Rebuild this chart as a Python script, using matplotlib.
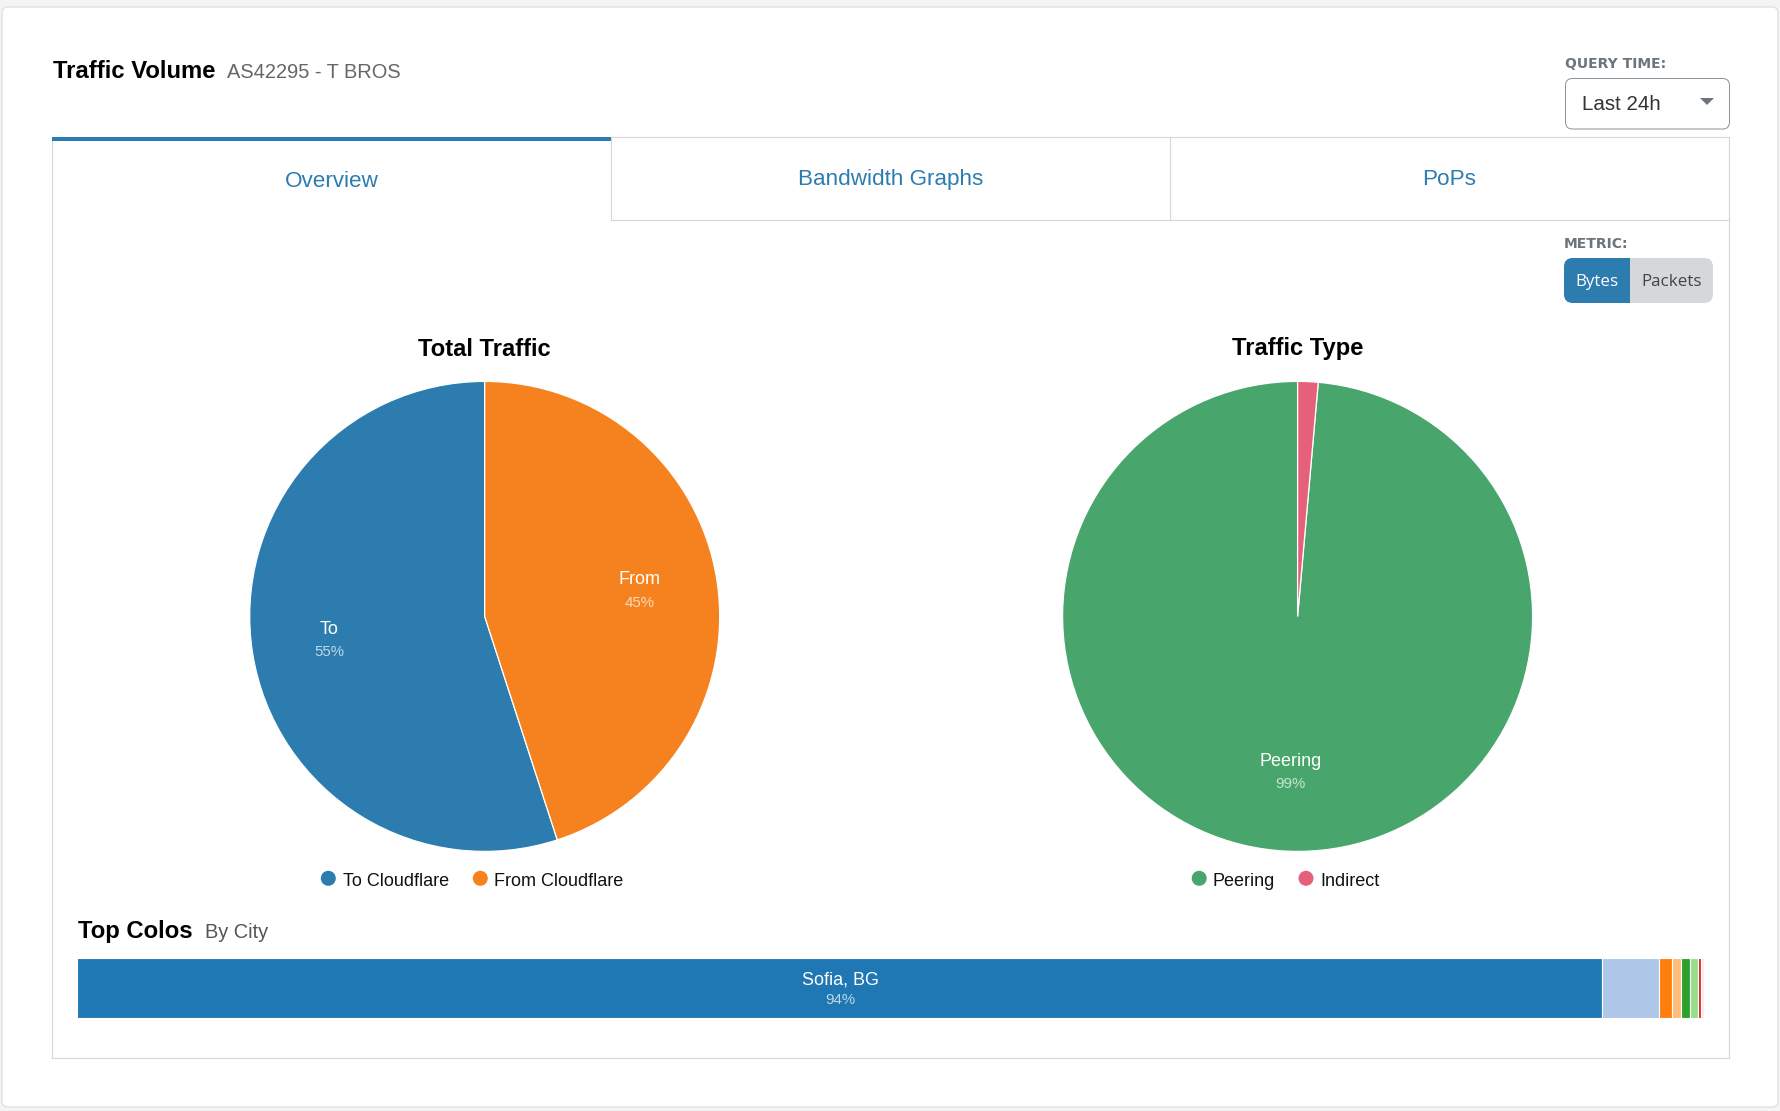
import matplotlib.pyplot as plt
from matplotlib.patches import Circle, FancyBboxPatch, Polygon, Rectangle

W, H = 1780, 1111

total_labels = ["To", "From"]
total_legend = ["To Cloudflare", "From Cloudflare"]
total_values = [55, 45]
total_pct = ["55%", "45%"]

type_labels = ["Peering", "Indirect"]
type_values = [98.6, 1.4]

colo_values = [93.78, 3.48, 0.78, 0.58, 0.55, 0.46, 0.18, 0.18]

TOTAL_COLORS = ["#2c7cb0", "#f5821f"]
TYPE_COLORS = ["#48a56c", "#e5607a"]
COLO_COLORS = ["#1f77b4", "#aec7e8", "#ff7f0e", "#ffbb78", "#2ca02c", "#98df8a", "#d62728", "#ffe9e4"]
BLUE = "#2c7cb0"
LINE = "#d6d6d6"

plt.rcParams["font.family"] = ["Liberation Sans", "DejaVu Sans"]

fig = plt.figure(figsize=(W / 100, H / 100), dpi=100, facecolor="#f4f4f4")
px = fig.add_axes([0, 0, 1, 1], zorder=0)
px.set_xlim(0, W)
px.set_ylim(H, 0)
px.axis("off")


def label(x, y, s, size, color="black", weight="normal", ha="left", family=None, alpha=None):
    kw = {"family": family} if family else {}
    fig.text(x, y + 1.5, s, transform=px.transData, fontsize=size * 0.72, color=color,
             fontweight=weight, ha=ha, va="center", alpha=alpha, **kw)


def box(x0, y0, x1, y1, r, **kw):
    patch = FancyBboxPatch((x0 + r, y0 + r), x1 - x0 - 2 * r, y1 - y0 - 2 * r,
                           boxstyle=f"round,pad={r},rounding_size={r}", **kw)
    px.add_patch(patch)
    return patch


def pie_axes(cx, cy, r, values, colors):
    ax = fig.add_axes([(cx - r) / W, 1 - (cy + r) / H, 2 * r / W, 2 * r / H], zorder=1)
    ax.pie(values, colors=colors, startangle=90, radius=1,
           wedgeprops={"edgecolor": "white", "linewidth": 0.9})
    ax.set_xlim(-1, 1)
    ax.set_ylim(-1, 1)
    return ax


# card
box(2, 7, 1778, 1107, 6, facecolor="white", edgecolor="#dedede", linewidth=0.9)

# header
label(53, 70, "Traffic Volume", 23.9, weight="bold")
label(227, 71.5, "AS42295 - T BROS", 20, color="#666666")
label(1565, 62.5, "QUERY TIME:", 13.9, color="#6c757d", weight="bold", family="DejaVu Sans")
box(1565.5, 78.5, 1729.5, 129, 7, facecolor="white", edgecolor="#8a9097", linewidth=0.7)
label(1582, 102.5, "Last 24h", 20.5, color="#333333")
px.add_patch(Polygon([(1700, 98), (1714, 98), (1707, 105)], facecolor="#6c757d", edgecolor="none"))

# tabs and panel
px.add_patch(Rectangle((52, 136.5), 1677, 921, facecolor="white", edgecolor=LINE, linewidth=0.8))
px.plot([611, 1729], [220, 220], color=LINE, lw=0.8)
px.plot([611, 611], [136.5, 220], color=LINE, lw=0.8)
px.plot([1170, 1170], [136.5, 220], color=LINE, lw=0.8)
px.add_patch(Rectangle((52, 136.5), 559.5, 4, facecolor=BLUE, edgecolor="none"))
label(332, 180, "Overview", 22.5, color=BLUE, ha="center")
label(890.5, 178, "Bandwidth Graphs", 22.5, color=BLUE, ha="center")
label(1449.5, 178, "PoPs", 22.5, color=BLUE, ha="center")

# metric toggle
label(1564, 242, "METRIC:", 13.9, color="#6c757d", weight="bold", family="DejaVu Sans")
box(1564, 258, 1713, 303, 9, facecolor="#d6d7d9", edgecolor="none")
bytes_btn = box(1564, 258, 1660, 303, 9, facecolor=BLUE, edgecolor="none")
clip = Rectangle((1564, 258), 66, 45, transform=px.transData)
bytes_btn.set_clip_path(clip)
label(1597, 280, "Bytes", 17, color="white", ha="center", family="Open Sans")
label(1672, 280, "Packets", 17, color="#444444", ha="center", family="Open Sans")

# pies
pie_axes(484.7, 616.4, 235, total_values, TOTAL_COLORS)
pie_axes(1297.6, 616.4, 235, type_values, TYPE_COLORS)
label(484.5, 347.5, "Total Traffic", 23.8, weight="bold", ha="center")
label(1297.6, 347.5, "Traffic Type", 23.8, weight="bold", ha="center")

label(329.5, 628, total_labels[0], 18, color="white", ha="center")
label(329, 650, total_pct[0], 15, color="white", ha="center", alpha=0.7)
label(639, 577.5, total_labels[1], 18, color="white", ha="center")
label(639.5, 601.5, total_pct[1], 15, color="white", ha="center", alpha=0.7)
label(1291, 760.5, type_labels[0], 18, color="white", ha="center")
label(1290.5, 782.5, "99%", 15, color="white", ha="center", alpha=0.7)

# legends
for cx, tx, s, c in [(328.3, 342.7, total_legend[0], TOTAL_COLORS[0]),
                     (480.3, 494, total_legend[1], TOTAL_COLORS[1]),
                     (1199.2, 1212.5, type_labels[0], TYPE_COLORS[0]),
                     (1306, 1320, type_labels[1], TYPE_COLORS[1])]:
    px.add_patch(Circle((cx, 878.3), 7.5, facecolor=c, edgecolor="none"))
    label(tx, 879.5, s, 18, color="#111111")

# top colos
label(78.5, 930, "Top Colos", 23.9, weight="bold")
label(205, 931, "By City", 20, color="#555555")

bar = fig.add_axes([77 / W, 1 - 1018 / H, (1703.5 - 77) / W, 60 / H], zorder=1)
left = 0
for v, c in zip(colo_values, COLO_COLORS):
    bar.barh(0, v, left=left, height=1, color=c, edgecolor="white", linewidth=0.8)
    left += v
bar.set_xlim(0, sum(colo_values))
bar.set_ylim(-0.5, 0.5)
bar.axis("off")
label(840, 978.5, "Sofia, BG", 18, color="white", ha="center")
label(840, 999, "94%", 15, color="white", ha="center", alpha=0.7)

fig.savefig("out.png", dpi=100, facecolor=fig.get_facecolor())
